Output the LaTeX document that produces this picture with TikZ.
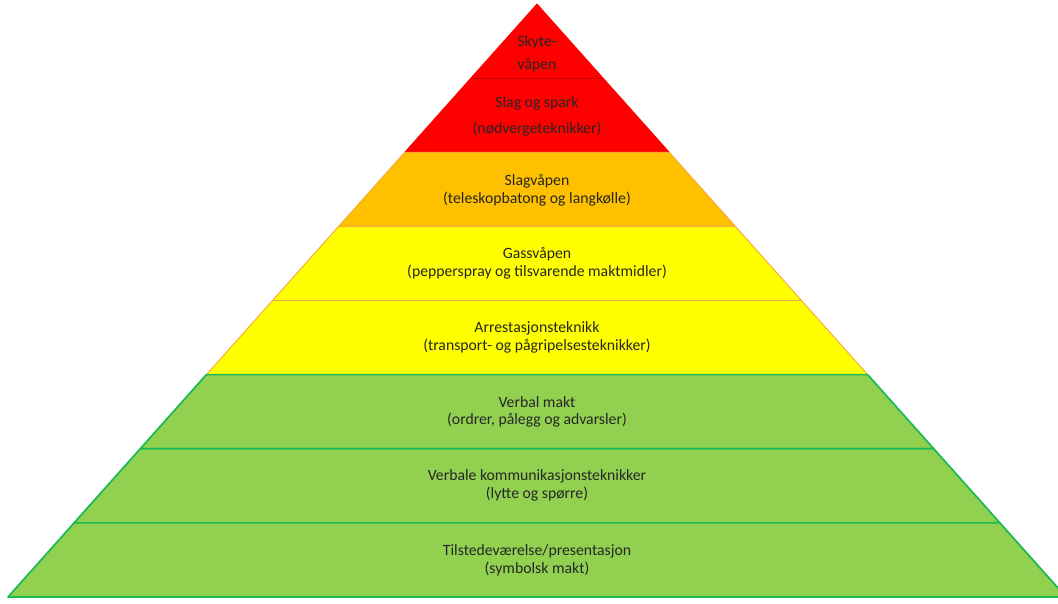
\documentclass[tikz,border=0pt]{standalone}
\usepackage{fontspec}
\setmainfont{Carlito}
\usetikzlibrary{calc}
\definecolor{pyrred}{HTML}{FF0000}
\definecolor{pyrredline}{HTML}{C00000}
\definecolor{pyrorange}{HTML}{FFC000}
\definecolor{pyrorangeline}{HTML}{F5A93A}
\definecolor{pyryellow}{HTML}{FFFF00}
\definecolor{pyrgreen}{HTML}{92D050}
\definecolor{pyrgreenline}{HTML}{1DB954}
\tikzset{
  bandtext/.style={align=center, text=black!85, font=\fontsize{11.8}{13.2}\selectfont},
  widetext/.style={bandtext, font=\fontsize{11.8}{#1}\selectfont}
}
\begin{document}
\begin{tikzpicture}[x=0.75pt,y=-0.75pt]
\useasboundingbox (0,0) rectangle (1058,604);
\clip (0,0) rectangle (1058,604);
\coordinate (top) at (537,4);
\coordinate (left) at (8,597);
\coordinate (right) at (1066,597);
\foreach \k/\fillcol/\linecol/\lw [evaluate=\k as \kk using \k+1] in {0/pyrred/pyrred/0.6,1/pyrred/pyrred/0.6,2/pyrorange/pyrorangeline/0.7,3/pyryellow/pyrorangeline/0.7,4/pyryellow/pyrorangeline/0.7,5/pyrgreen/pyrgreenline/1.3,6/pyrgreen/pyrgreenline/1.3,7/pyrgreen/pyrgreenline/1.3}
  \filldraw[fill=\fillcol, draw=\linecol, line width=\lw pt, line join=round] ($(top)!\k/8!(left)$) -- ($(top)!\kk/8!(left)$) -- ($(top)!\kk/8!(right)$) -- ($(top)!\k/8!(right)$) -- cycle;
\draw[pyrredline, line width=0.6pt] ($(top)!1/8!(left)$) -- ($(top)!1/8!(right)$);
\node[widetext=17.3pt] (skyte) at (537,54) {Skyte-\\våpen};
\node[widetext=19.5pt] (slag) at (537,116) {Slag og spark\\(nødvergeteknikker)};
\node[bandtext] (slagvaapen) at (537,190) {Slagvåpen\\(teleskopbatong og langkølle)};
\node[bandtext] (gass) at (537,263.5) {Gassvåpen\\(pepperspray og tilsvarende maktmidler)};
\node[bandtext] (arrest) at (537,337.5) {Arrestasjonsteknikk\\(transport- og pågripelsesteknikker)};
\node[bandtext] (verbal) at (537,412) {Verbal makt\\(ordrer, pålegg og advarsler)};
\node[bandtext] (kommunikasjon) at (537,485.5) {Verbale kommunikasjonsteknikker\\(lytte og spørre)};
\node[bandtext] (tilstede) at (537,560) {Tilstedeværelse/presentasjon\\(symbolsk makt)};
\end{tikzpicture}
\end{document}
